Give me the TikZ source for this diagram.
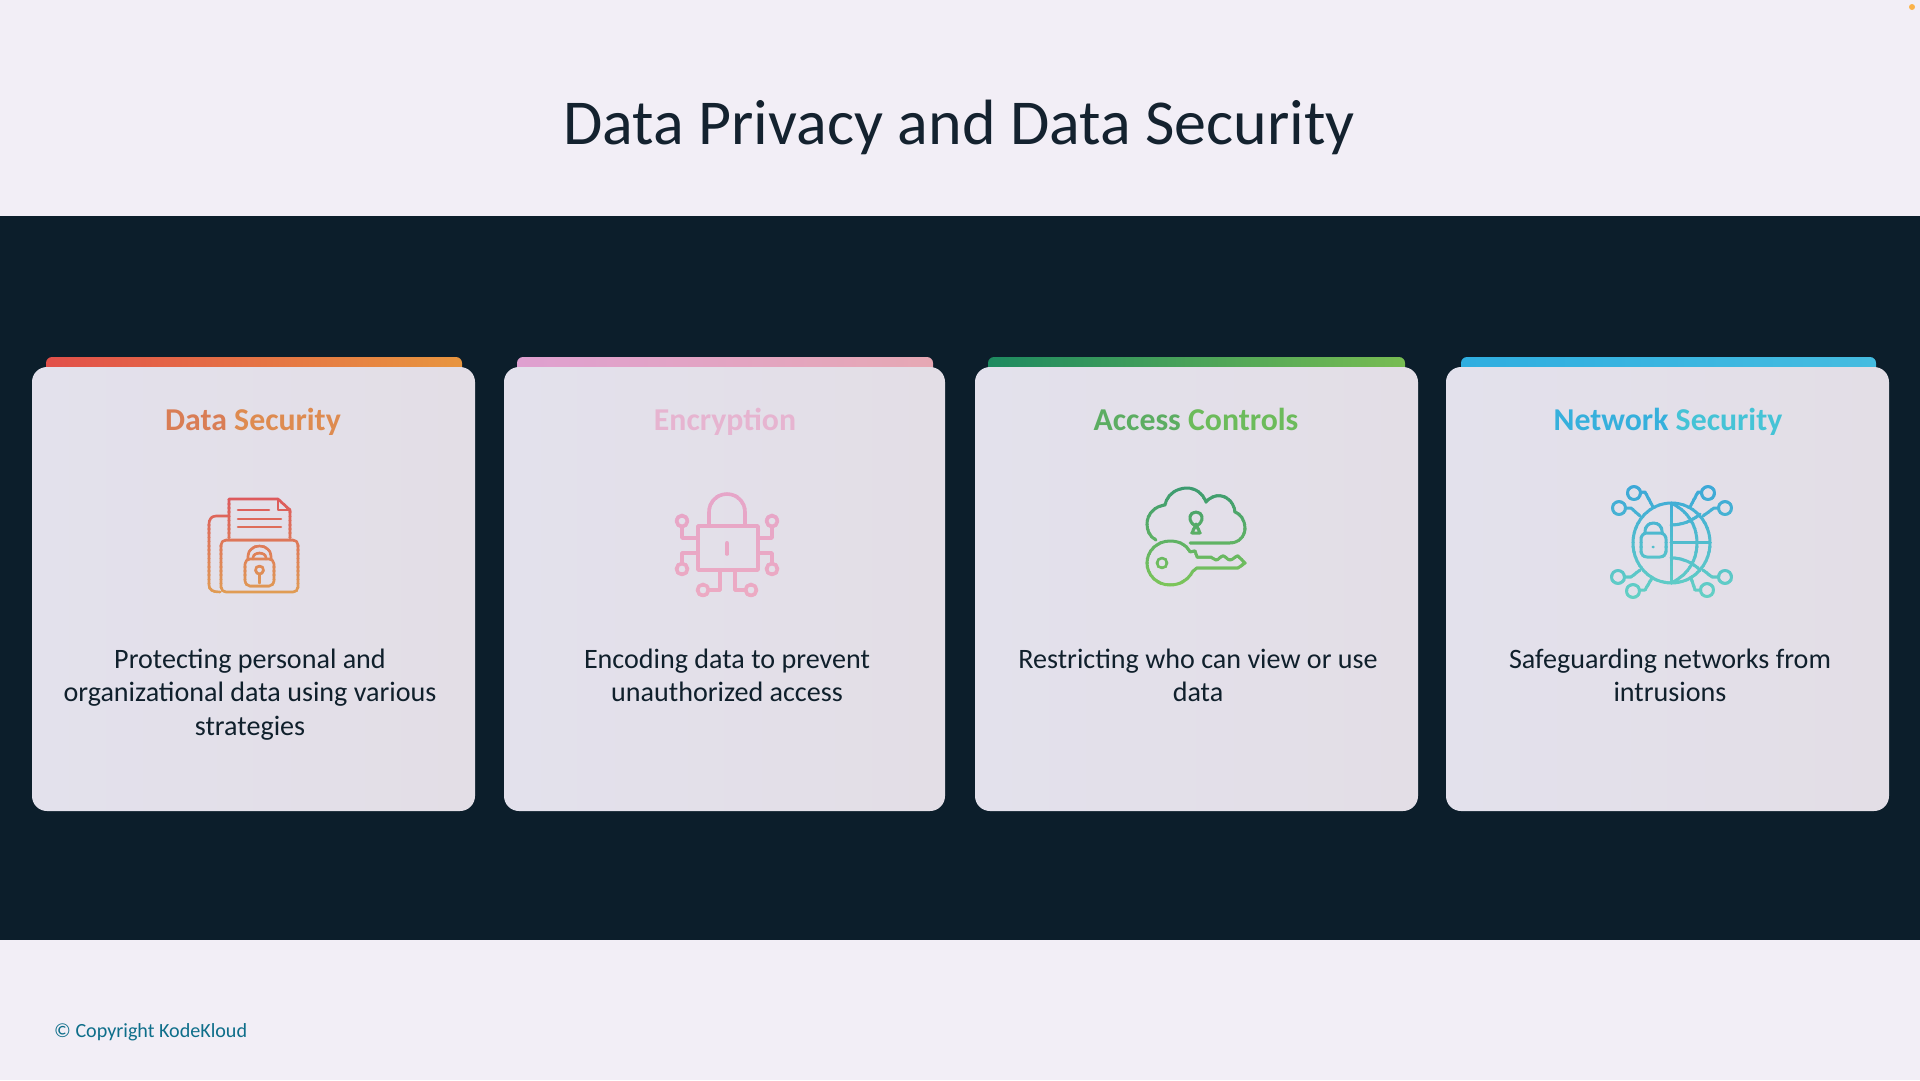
\documentclass[tikz,border=0pt]{standalone}
\usepackage{fontspec}
\setmainfont{Carlito}
\definecolor{pagebg}{HTML}{F2EEF6}
\definecolor{bandbg}{HTML}{0C1E2B}
\definecolor{titleink}{HTML}{14222F}
\definecolor{bodyink}{HTML}{10202C}
\definecolor{copyink}{HTML}{0E6E8A}
\definecolor{cardL}{HTML}{E3E1EC}
\definecolor{cardR}{HTML}{E3DEE6}
\definecolor{ioneA}{RGB}{221,88,92}\definecolor{ioneB}{RGB}{224,156,84}
\definecolor{itwoA}{RGB}{230,165,200}\definecolor{itwoB}{RGB}{236,170,195}
\definecolor{ithrA}{RGB}{60,155,112}\definecolor{ithrB}{RGB}{124,197,90}
\definecolor{ifouA}{RGB}{60,168,216}\definecolor{ifouB}{RGB}{100,208,196}
\tikzset{
  px/.style={x=1pt,y=-1pt},
  cardbox/.style={rounded corners=15pt,left color=cardL,right color=cardR,draw=none},
  topbar/.style={rounded corners=6pt},
  headtext/.style={font=\fontsize{31.8}{36}\selectfont\bfseries,anchor=base},
  bodytext/.style={font=\fontsize{28.1}{33.6}\selectfont,text=bodyink,align=center,anchor=north},
}
% gradient strokes: the icon is drawn once per horizontal band
\newcommand{\gradicon}[6]{% x0,x1,y0,y1,colA,colB + \icondraw
  \foreach \k in {0,...,23}{%
    \pgfmathsetmacro{\ya}{#3+(#4-#3)*\k/24}%
    \pgfmathsetmacro{\yb}{#3+(#4-#3)*(\k+1)/24+0.6}%
    \pgfmathsetmacro{\mixp}{100-100*\k/23}%
    \begin{scope}
      \clip (#1,\ya) rectangle (#2,\yb);
      \colorlet{inkmix}{#5!\mixp!#6}
      \begin{scope}[draw=inkmix,fill=inkmix,line cap=round,line join=round]
        \icondraw
      \end{scope}
    \end{scope}
  }%
}
\newcommand{\iconone}{%
\begin{scope}[line width=2.6]
\draw (229,538) -- (229,499) -- (278,499) -- (290,510) -- (290,538);
\draw (278,499) -- (278,510) -- (290,510);
\draw (238,510) -- (269,510);
\draw (238,519) -- (281,519);
\draw (238,527) -- (281,527);
\draw (229,516) -- (216,516) .. controls (211,516) and (209,520) .. (209,524) -- (209,585) .. controls (209,590) and (213,592) .. (220,592);
\draw[rounded corners=5pt] (221,592) -- (221,540) -- (298,540) -- (298,592) -- cycle;
\draw[rounded corners=5pt] (245,559) rectangle (274,586);
\draw (248,559) -- (248,556) arc[start angle=180,end angle=0,x radius=11.5,y radius=-10] -- (271,559);
\draw (253,559) -- (253,558) arc[start angle=180,end angle=0,x radius=6.5,y radius=-5] -- (266,559);
\draw (259.5,570) circle[radius=4];
\draw (259.5,574) -- (259.5,583);
\end{scope}}
\newcommand{\icontwo}{%
\begin{scope}[line width=3.6]
\draw (698,526) rectangle (758,570);
\draw (709,526) -- (709,512) arc[start angle=180,end angle=0,x radius=18,y radius=-18] -- (745,526);
\draw (727,543) -- (727,554);
\draw (682,521) circle[radius=5.5];
\draw (682,527) -- (682,538) -- (698,538);
\draw (772,521) circle[radius=5.5];
\draw (772,527) -- (772,538) -- (758,538);
\draw (682,569) circle[radius=5.5];
\draw (682,563) -- (682,553) -- (698,553);
\draw (772,569) circle[radius=5.5];
\draw (772,563) -- (772,553) -- (758,553);
\draw (703,590) circle[radius=5.5];
\draw (709,590) -- (720,590) -- (720,570);
\draw (751,590) circle[radius=5.5];
\draw (745,590) -- (735,590) -- (735,570);
\end{scope}}
\newcommand{\iconthree}{%
\begin{scope}[line width=3]
\draw (1156,540) .. controls (1150,537) and (1147,531) .. (1147,524)
  .. controls (1147,514) and (1155,506) .. (1165,505)
  .. controls (1167,495) and (1176,488) .. (1187,488)
  .. controls (1196,488) and (1203,494) .. (1206,502)
  .. controls (1210,497) and (1216,495) .. (1221,496)
  .. controls (1229,497) and (1234,504) .. (1235,512)
  .. controls (1241,514) and (1245,521) .. (1245,528)
  .. controls (1245,537) and (1238,543) .. (1230,543) -- (1190,543);
\draw (1196,526) .. controls (1191,524) and (1190,520) .. (1190,518)
  .. controls (1190,514) and (1193,512) .. (1196,512)
  .. controls (1199,512) and (1202,514) .. (1202,518)
  .. controls (1202,520) and (1201,524) .. (1196,526);
\draw (1196,524) -- (1192,533) -- (1200,533) -- cycle;
\draw (1190,552) .. controls (1186,544) and (1178,541) .. (1170,541)
  .. controls (1157,541) and (1147,551) .. (1147,563)
  .. controls (1147,575) and (1157,585) .. (1170,585)
  .. controls (1180,585) and (1188,580) .. (1193,571)
  -- (1197,568) -- (1238,568) -- (1245,563) -- (1238,556)
  .. controls (1235,556) and (1233,560) .. (1230,560)
  .. controls (1227,560) and (1226,556) .. (1223,556)
  .. controls (1220,556) and (1219,560) .. (1216,560)
  .. controls (1213,560) and (1212,556) .. (1209,557)
  -- (1197,557) -- (1195,551) -- (1190,552);
\draw[line width=2.6] (1162,563) circle[radius=5];
\end{scope}}
\newcommand{\iconfour}{%
\begin{scope}[line width=3]
\draw (1671.5,543) circle[x radius=38.5,y radius=40];
\draw (1671,503) -- (1671,583);
\draw (1671,503) .. controls (1690,512) and (1697,528) .. (1697,543) .. controls (1697,558) and (1690,574) .. (1671,583);
\draw (1671,542) -- (1710,542);
\draw (1671,525) .. controls (1682,525) and (1692,521) .. (1700,514);
\draw (1671,558) .. controls (1682,558) and (1692,562) .. (1700,570);
\draw[rounded corners=6pt] (1641,533) rectangle (1666,557);
\draw (1645,533) -- (1645,531) arc[start angle=180,end angle=0,x radius=8.5,y radius=-8] -- (1662,533);
\fill (1653,547) circle[radius=1.5];
\draw (1634,493) circle[radius=6.5];
\draw (1640.5,492) -- (1645,492) -- (1653,507);
\draw (1619,508) circle[radius=6.5];
\draw (1625.5,508) -- (1631,508) -- (1640,516);
\draw (1708,493) circle[radius=6.5];
\draw (1701.5,492) -- (1698,492) -- (1690,507);
\draw (1725,508) circle[radius=6.5];
\draw (1718.5,508) -- (1714,508) -- (1703,516);
\draw (1618,577) circle[radius=6.5];
\draw (1624.5,577) -- (1631,577) -- (1640,570);
\draw (1633,591) circle[radius=6.5];
\draw (1639.5,590) -- (1645,590) -- (1652,578);
\draw (1725,577) circle[radius=6.5];
\draw (1718.5,577) -- (1712,577) -- (1703,570);
\draw (1707,590) circle[radius=6.5];
\draw (1700.5,590) -- (1695,590) -- (1691,578);
\end{scope}}
\begin{document}
\begin{tikzpicture}[px]
\useasboundingbox (0,0) rectangle (1920,1080);
\fill[pagebg] (0,0) rectangle (1920,1080);
\fill[bandbg] (0,216) rectangle (1920,940);
\fill[orange!80!yellow,opacity=.7] (1912,7) circle[radius=3];
\node[font=\fontsize{64}{74}\selectfont,text=titleink] (title) at (959,127) {Data Privacy and Data Security};
% top bars
\shade[topbar,left color={rgb,255:red,226;green,80;blue,74},right color={rgb,255:red,232;green,149;blue,63}] (46,357) rectangle (462,380);
\shade[topbar,left color={rgb,255:red,223;green,160;blue,208},right color={rgb,255:red,230;green,168;blue,180}] (517,357) rectangle (933,380);
\shade[topbar,left color={rgb,255:red,30;green,138;blue,96},right color={rgb,255:red,120;green,188;blue,82}] (988,357) rectangle (1405,380);
\shade[topbar,left color={rgb,255:red,47;green,174;blue,224},right color={rgb,255:red,69;green,188;blue,224}] (1461,357) rectangle (1876,380);
% cards
\shade[cardbox] (32,367) rectangle (475,811);
\shade[cardbox] (504,367) rectangle (945,811);
\shade[cardbox] (975,367) rectangle (1418,811);
\shade[cardbox] (1446,367) rectangle (1889,811);
% headings
\node[headtext] (h1) at (253,430) {\textcolor[HTML]{D97D55}{Data} \textcolor[HTML]{DE8B50}{Security}};
\node[headtext] (h2) at (725,430) {\textcolor[HTML]{E6B4D0}{Encryption}};
\node[headtext] (h3) at (1196,430) {\textcolor[HTML]{5CAD62}{Access} \textcolor[HTML]{6CBB5B}{Controls}};
\node[headtext] (h4) at (1668,430) {\textcolor[HTML]{36B0DC}{Network} \textcolor[HTML]{45C3D6}{Security}};
% icons
\let\icondraw\iconone
\gradicon{203}{304}{495}{596}{ioneA}{ioneB}
\let\icondraw\icontwo
\gradicon{670}{784}{490}{600}{itwoA}{itwoB}
\let\icondraw\iconthree
\gradicon{1143}{1249}{486}{588}{ithrA}{ithrB}
\let\icondraw\iconfour
\gradicon{1608}{1736}{484}{600}{ifouA}{ifouB}
% body
\node[bodytext] (b1) at (250,645) {Protecting personal and\\organizational data using various\\strategies};
\node[bodytext] (b2) at (727,645) {Encoding data to prevent\\unauthorized access};
\node[bodytext] (b3) at (1198,645) {Restricting who can view or use\\data};
\node[bodytext] (b4) at (1670,645) {Safeguarding networks from\\intrusions};
\node[font=\fontsize{20.1}{24}\selectfont,text=copyink,anchor=west,inner sep=0pt] (copy) at (54,1032) {© Copyright KodeKloud};
\end{tikzpicture}
\end{document}
